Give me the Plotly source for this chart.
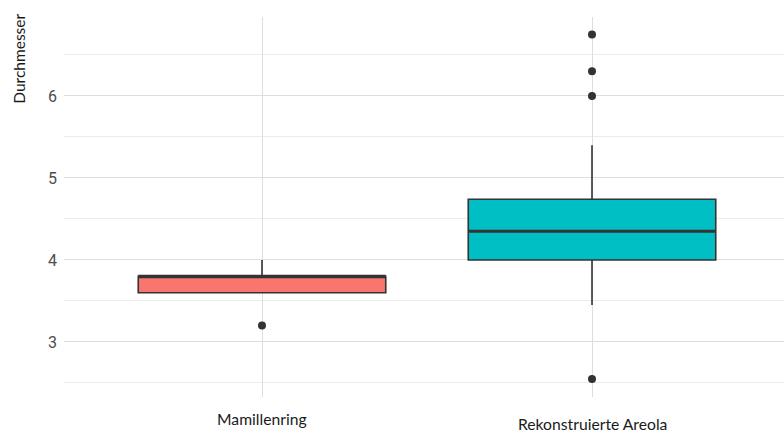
import plotly.graph_objects as go

# Groups and summary statistics of the diameter measurements
categories = ["Mamillenring", "Rekonstruierte Areola"]
q1 = [3.6, 4.0]
median = [3.8, 4.35]
q3 = [3.8, 4.74]
lower_whisker = [3.6, 3.45]
upper_whisker = [4.0, 5.4]
outliers = {
    "Mamillenring": [3.2],
    "Rekonstruierte Areola": [6.75, 6.3, 6.0, 2.55],
}
fill_colors = ["#F8766D", "#00BFC4"]
y_ticks = [3, 4, 5, 6]
y_title = "Durchmesser"

box_width = 0.75
positions = list(range(1, len(categories) + 1))
line_color = "#333333"

fig = go.Figure()

for pos, cat, color, a, m, b, lo, hi in zip(positions, categories, fill_colors,
                                            q1, median, q3, lower_whisker, upper_whisker):
    fig.add_trace(go.Box(
        x=[pos], q1=[a], median=[m], q3=[b], lowerfence=[lo], upperfence=[hi],
        width=box_width, fillcolor=color, whiskerwidth=0,
        line=dict(color=line_color, width=1.6),
        boxpoints=False, showlegend=False, hoverinfo="skip",
    ))
    # thicker median bar
    fig.add_trace(go.Scatter(
        x=[pos - box_width / 2, pos + box_width / 2], y=[m, m],
        mode="lines", line=dict(color=line_color, width=3.2),
        showlegend=False, hoverinfo="skip",
    ))
    pts = outliers[cat]
    fig.add_trace(go.Scatter(
        x=[pos] * len(pts), y=pts, mode="markers",
        marker=dict(color=line_color, size=8),
        showlegend=False, hoverinfo="skip",
    ))

# category labels beneath the panel
label_y = [-0.058, -0.07]
for pos, cat, ly in zip(positions, categories, label_y):
    fig.add_annotation(
        x=pos, xref="x", y=ly, yref="paper", text=cat, showarrow=False,
        xanchor="center", yanchor="middle",
        font=dict(family="Lato", size=15.7, color="#1a1a1a"),
    )

fig.add_annotation(
    x=-0.063, xref="paper", y=1.013, yref="paper", text=y_title,
    textangle=-90, showarrow=False, xanchor="center", yanchor="top",
    font=dict(family="Lato", size=15.5, color="#1a1a1a"),
)

fig.update_layout(
    width=784, height=436,
    margin=dict(l=64, r=0, t=17, b=39),
    paper_bgcolor="white", plot_bgcolor="white",
    xaxis=dict(
        range=[0.4, 0.4 + 720 / 330], tickvals=positions, ticktext=["", ""],
        showgrid=True, gridcolor="#DEDEDE", gridwidth=1, zeroline=False,
        showline=False, ticks="",
    ),
    yaxis=dict(
        range=[2.329, 6.963], tickvals=y_ticks,
        showgrid=True, gridcolor="#DEDEDE", gridwidth=1, zeroline=False,
        minor=dict(dtick=0.5, tick0=2.5, showgrid=True, gridcolor="#EBEBEB", gridwidth=1),
        ticks="", tickfont=dict(family="Roboto", size=16, color="#4D4D4D"),
        ticklabelstandoff=6,
    ),
)

fig.write_html("out.html")
